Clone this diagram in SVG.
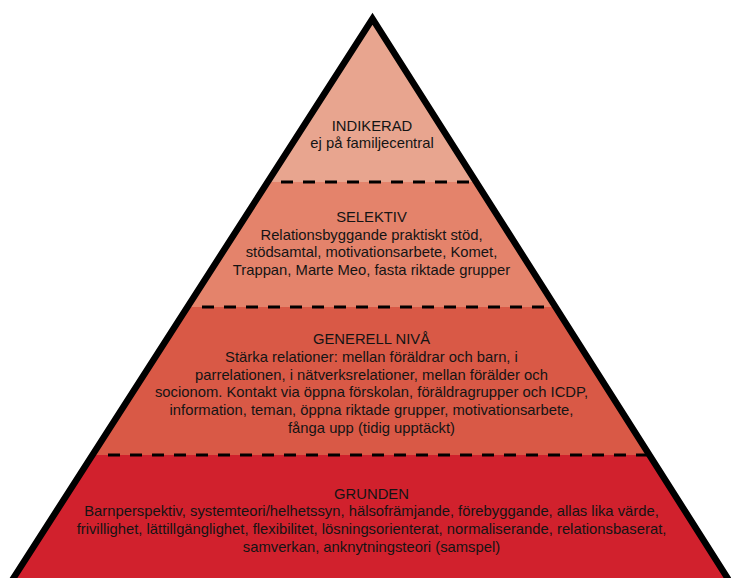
<svg xmlns="http://www.w3.org/2000/svg" width="731" height="578" viewBox="0 0 731 578">
  <style>
    .t { font-family: "Liberation Sans", Arial, Helvetica, sans-serif; font-size: 14.8px; fill: #141414; text-anchor: middle; }
    .div { stroke: #000; stroke-width: 3; stroke-dasharray: 12 10; fill: none; }
    .outline { fill: none; stroke: #000; stroke-width: 6.5; stroke-linejoin: miter; stroke-miterlimit: 10; }
  </style>
  <defs>
    <clipPath id="tri">
      <polygon points="372.5,18.7 5.8,590 735.1,590"/>
    </clipPath>
  </defs>
  <rect x="0" y="0" width="731" height="578" fill="#ffffff"/>
  <g clip-path="url(#tri)">
    <g id="indikerad-band"><rect x="0" y="0" width="731" height="182" fill="#E8A58F"/></g>
    <g id="selektiv-band"><rect x="0" y="182" width="731" height="125" fill="#E4836B"/></g>
    <g id="generell-band"><rect x="0" y="307" width="731" height="148" fill="#D95946"/></g>
    <g id="grunden-band"><rect x="0" y="455" width="731" height="135" fill="#D1212D"/></g>
    <g id="dividers">
      <line class="div" x1="281" y1="182" x2="480" y2="182"/>
      <line class="div" x1="202" y1="307" x2="560" y2="307"/>
      <line class="div" x1="108" y1="455" x2="660" y2="455"/>
    </g>
  </g>
  <polygon class="outline" points="372.5,18.7 5.8,590 735.1,590"/>
  <g id="indikerad">
    <text class="t" x="372" y="131">INDIKERAD</text>
    <text class="t" x="372" y="147.5">ej på familjecentral</text>
  </g>
  <g id="selektiv">
    <text class="t" x="371.5" y="221.5">SELEKTIV</text>
    <text class="t" x="371.5" y="239.5">Relationsbyggande praktiskt stöd,</text>
    <text class="t" x="371.5" y="257.2">stödsamtal, motivationsarbete, Komet,</text>
    <text class="t" x="371.5" y="275">Trappan, Marte Meo, fasta riktade grupper</text>
  </g>
  <g id="generell">
    <text class="t" x="371.5" y="344.3">GENERELL NIVÅ</text>
    <text class="t" x="371.5" y="362">Stärka relationer: mellan föräldrar och barn, i</text>
    <text class="t" x="371.5" y="379.7">parrelationen, i nätverksrelationer, mellan förälder och</text>
    <text class="t" x="371.5" y="397.4">socionom. Kontakt via öppna förskolan, föräldragrupper och ICDP,</text>
    <text class="t" x="371.5" y="415.1">information, teman, öppna riktade grupper, motivationsarbete,</text>
    <text class="t" x="371.5" y="432.8">fånga upp (tidig upptäckt)</text>
  </g>
  <g id="grunden">
    <text class="t" x="371.5" y="498.5">GRUNDEN</text>
    <text class="t" x="371.5" y="516.3">Barnperspektiv, systemteori/helhetssyn, hälsofrämjande, förebyggande, allas lika värde,</text>
    <text class="t" x="371.5" y="534">frivillighet, lättillgänglighet, flexibilitet, lösningsorienterat, normaliserande, relationsbaserat,</text>
    <text class="t" x="371.5" y="551.8">samverkan, anknytningsteori (samspel)</text>
  </g>
  <g id="connectors"></g>
</svg>
